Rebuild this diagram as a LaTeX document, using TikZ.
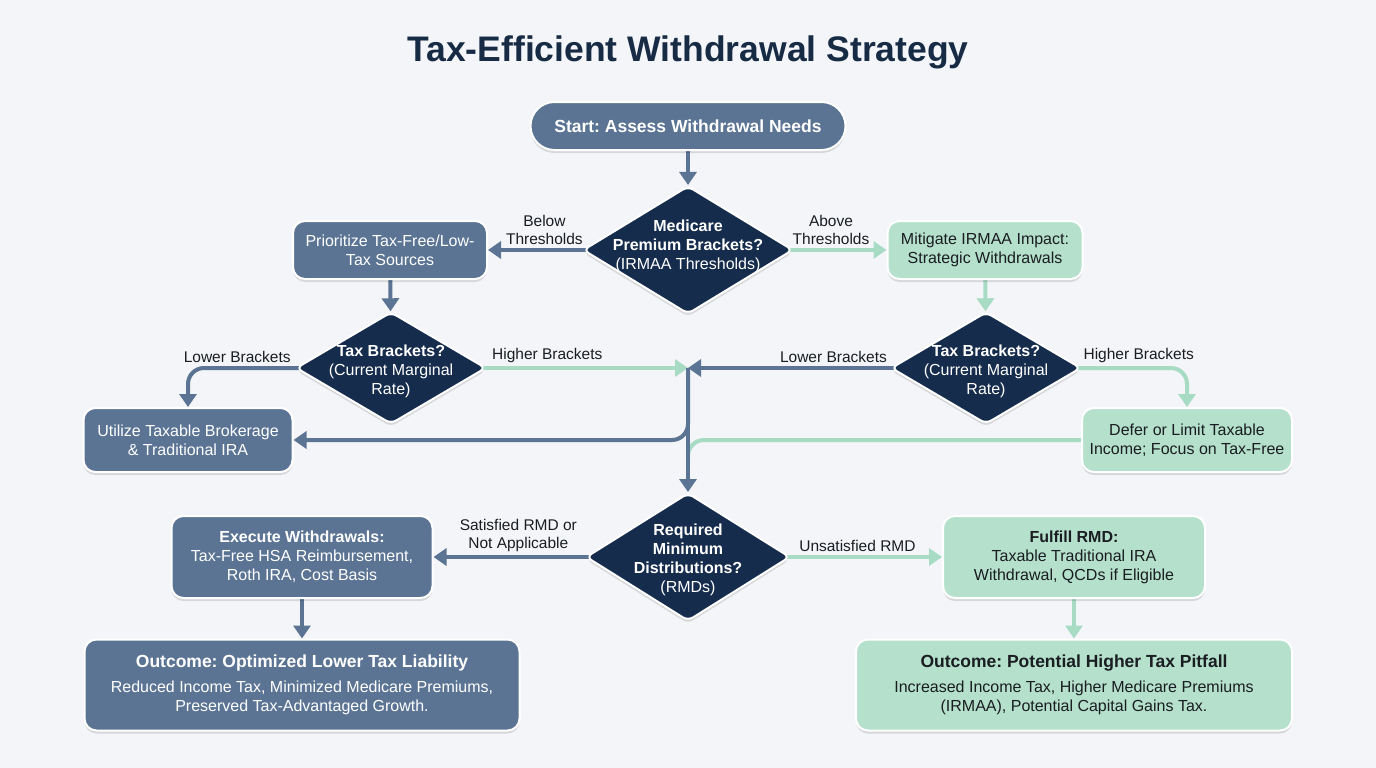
\documentclass[tikz,border=0pt]{standalone}
\usepackage{fontspec}
\setmainfont{Liberation Sans}
\frenchspacing
\usetikzlibrary{arrows.meta,shapes.geometric,shadows,backgrounds}
\definecolor{canvas}{HTML}{F3F5F8}
\definecolor{ink}{HTML}{172B45}
\definecolor{slate}{HTML}{5B7494}
\definecolor{navy}{HTML}{162C4C}
\definecolor{mint}{HTML}{B4E0CC}
\definecolor{mintline}{HTML}{A8DBC4}
\definecolor{txt}{HTML}{1A1D21}
\tikzset{>={Triangle[width=17pt,length=13pt]},
  body/.style={font=\fontsize{16}{19}\selectfont},
  soft/.style={drop shadow={shadow xshift=0pt,shadow yshift=-3pt,opacity=0.12,fill=black}},
  box/.style={body,rectangle,rounded corners=12pt,draw=white,line width=2pt,align=center,inner sep=4pt,soft},
  lo/.style={box,fill=slate,text=white},
  hi/.style={box,fill=mint,text=txt},
  decision/.style={diamond,fill=navy,draw=white,line width=2pt,rounded corners=6pt,inner sep=0pt,soft},
  dtext/.style={body,text=white,align=center,inner sep=0pt},
  lbl/.style={font=\fontsize{15.5}{18}\selectfont,text=txt,align=center,inner sep=3pt},
  loflow/.style={draw=slate,line width=4pt},
  hiflow/.style={draw=mintline,line width=4pt},
  head/.style={font=\fontsize{17.5}{21}\selectfont\bfseries}}

\begin{document}
\begin{tikzpicture}[x=1pt,y=-1pt]
  \useasboundingbox (0,0) rectangle (1376,768);
  \node[font=\fontsize{35.5}{40}\selectfont\bfseries,text=ink] (title) at (688,52) {Tax-Efficient Withdrawal Strategy};

  % top row
  \node[lo,head,rounded corners=24pt,minimum width=315pt,minimum height=48pt] (start) at (688,126) {Start: Assess Withdrawal Needs};
  \node[decision,minimum width=210pt,minimum height=128pt,
    label={[dtext,yshift=4pt]center:{\textbf{Medicare}\\\textbf{Premium Brackets?}\\(IRMAA Thresholds)}}] (med) at (688,250) {};
  \node[lo,minimum width=194pt,minimum height=58pt] (prio) at (390,250) {Prioritize Tax-Free/Low-\\Tax Sources};
  \node[hi,minimum width=195pt,minimum height=58pt] (miti) at (985,250) {Mitigate IRMAA Impact:\\Strategic Withdrawals};

  % bracket checks
  \node[decision,minimum width=190pt,minimum height=112pt,
    label={[dtext,yshift=-3pt]center:{\textbf{Tax Brackets?}\\(Current Marginal\\Rate)}}] (taxl) at (391,368) {};
  \node[decision,minimum width=190pt,minimum height=112pt,
    label={[dtext,yshift=-3pt]center:{\textbf{Tax Brackets?}\\(Current Marginal\\Rate)}}] (taxr) at (986,368) {};
  \node[lo,minimum width=209pt,minimum height=64pt] (util) at (188,440) {Utilize Taxable Brokerage\\\& Traditional IRA};
  \node[hi,minimum width=210pt,minimum height=64pt] (defer) at (1187,440) {Defer or Limit Taxable\\Income; Focus on Tax-Free};
  \coordinate (hub) at (688,368);
  \coordinate (join) at (688,462);

  % RMD step
  \node[decision,minimum width=204pt,minimum height=128pt,
    label={[dtext,yshift=-3pt]center:{\textbf{Required}\\\textbf{Minimum}\\\textbf{Distributions?}\\(RMDs)}}] (rmd) at (688,557) {};
  \node[lo,minimum width=261pt,minimum height=82pt] (exec) at (302,557) {\textbf{Execute Withdrawals:}\\Tax-Free HSA Reimbursement,\\Roth IRA, Cost Basis};
  \node[hi,minimum width=262pt,minimum height=82pt] (fulfill) at (1074,557) {\textbf{Fulfill RMD:}\\Taxable Traditional IRA\\Withdrawal, QCDs if Eligible};

  % outcomes
  \node[lo,minimum width=435pt,minimum height=91pt] (outl) at (302,685) {{\fontsize{17.5}{21}\selectfont\bfseries Outcome: Optimized Lower Tax Liability}\\[6pt]Reduced Income Tax, Minimized Medicare Premiums,\\Preserved Tax-Advantaged Growth.};
  \node[hi,minimum width=436pt,minimum height=91pt] (outr) at (1074,685) {{\fontsize{17.5}{21}\selectfont\bfseries Outcome: Potential Higher Tax Pitfall}\\[6pt]Increased Income Tax, Higher Medicare Premiums\\(IRMAA), Potential Capital Gains Tax.};

  \begin{pgfonlayer}{background}
    \fill[canvas] (0,0) rectangle (1376,768);
    \draw[loflow,->] (start) -- (med);
    \draw[loflow,->,shorten <=-6pt] (med.west) -- node[lbl,above,pos=0.4] {Below\\Thresholds} (prio.east);
    \draw[hiflow,->,shorten <=-6pt] (med.east) -- node[lbl,above,pos=0.4] {Above\\Thresholds} (miti.west);
    \draw[loflow,->] (prio) -- (taxl);
    \draw[hiflow,->] (miti) -- (taxr);
    \draw[loflow,->,rounded corners=16pt,shorten <=-6pt] (taxl.west) -| node[lbl,above,pos=0.27] {Lower Brackets} (util.north);
    \draw[hiflow,->,rounded corners=16pt,shorten <=-6pt] (taxr.east) -| node[lbl,above,pos=0.27] {Higher Brackets} (defer.north);
    \draw[hiflow,->,shorten <=-6pt] (taxl.east) -- node[lbl,above,pos=0.3] {Higher Brackets} (hub);
    \draw[hiflow,rounded corners=16pt] (defer.west) -| (join);
    \draw[loflow,->,shorten <=-6pt] (taxr.west) -- node[lbl,above,pos=0.28] {Lower Brackets} (hub);
    \draw[loflow,->,rounded corners=16pt] (hub) |- (util.east);
    \draw[loflow,->] (hub) -- (rmd.north);
    \draw[loflow,->,shorten <=-6pt] (rmd.west) -- node[lbl,above,pos=0.44] {Satisfied RMD or\\Not Applicable} (exec.east);
    \draw[hiflow,->,shorten <=-6pt] (rmd.east) -- node[lbl,above,pos=0.44] {Unsatisfied RMD} (fulfill.west);
    \draw[loflow,->] (exec) -- (outl);
    \draw[hiflow,->] (fulfill) -- (outr);
  \end{pgfonlayer}
\end{tikzpicture}
\end{document}
